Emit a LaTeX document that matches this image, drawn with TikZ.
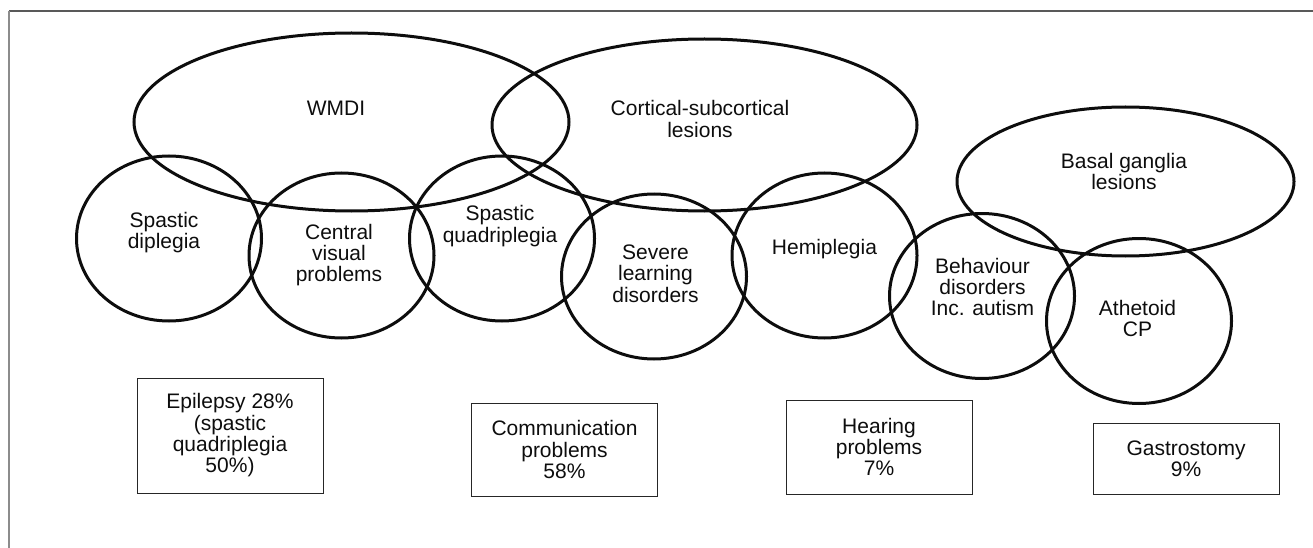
\documentclass[tikz,border=0pt]{standalone}
\usepackage{fontspec}
\setmainfont{Liberation Sans}
\usetikzlibrary{shapes.geometric}
\begin{document}
\begin{tikzpicture}[x=1pt,y=-1pt,
  lobe/.style n args={2}{draw=black!95, line width=3pt, ellipse, inner sep=0pt,
    minimum width=#1, minimum height=#2},
  lbl/.style={align=center, inner sep=0pt, text=black!95,
    font=\fontsize{21}{21.3}\selectfont},
  infobox/.style={draw=black!85, line width=1pt, inner sep=0pt, align=center,
    minimum width=186pt, text=black!95, font=\fontsize{21}{21.3}\selectfont}]
\useasboundingbox (0,0) rectangle (1313,548);
% frame
\draw[black!65, line width=1.1pt] (1313,11) -- (9,11);
\draw[black!45, line width=1.4pt] (9,11) -- (9,548);
% ellipses
\node[lobe={435pt}{178pt}] (wmdi) at (351.5,122) {};
\node[lobe={425pt}{172pt}] (cort) at (704.5,125) {};
\node[lobe={337pt}{149pt}] (basal) at (1125.5,181.5) {};
\node[lobe={185pt}{165pt}] (dipl) at (169,238.5) {};
\node[lobe={185pt}{165pt}] (cvis) at (341.5,255.5) {};
\node[lobe={185pt}{165pt}] (quad) at (502,238.5) {};
\node[lobe={185pt}{165pt}] (sev) at (654,276.5) {};
\node[lobe={185pt}{165pt}] (hemi) at (824.5,255.5) {};
\node[lobe={185pt}{165pt}] (behav) at (982,296) {};
\node[lobe={185pt}{165pt}] (athe) at (1139,321) {};
% labels
\node[lbl] (twmdi) at (336,108.5) {WMDI};
\node[lbl] (tcort) at (700,119) {Cortical-subcortical\\lesions};
\node[lbl] (tbasal) at (1124,171.5) {Basal ganglia\\lesions};
\node[lbl] (tdipl) at (164,232.5) {Spastic\\diplegia};
\node[lbl] (tcvis) at (339,255) {Central\\visual\\problems};
\node[lbl] (tquad) at (500,226) {Spastic\\quadriplegia};
\node[lbl] (tsev) at (655.5,273.5) {Severe\\learning\\disorders};
\node[lbl] (themi) at (824.5,249.5) {Hemiplegia};
\node[lbl] (tbehav) at (982.5,287) {Behaviour\\disorders\\Inc. autism};
\node[lbl] (tathe) at (1137.5,318.5) {Athetoid\\CP};
% boxes
\node[infobox, minimum height=115pt] (epi) at (230,435.5) {Epilepsy 28\%\\(spastic\\quadriplegia\\50\%)};
\node[infobox, minimum height=93pt] (comm) at (564.5,449.5) {Communication\\problems\\58\%};
\node[infobox, minimum height=94pt] (hear) at (879,447) {Hearing\\problems\\7\%};
\node[infobox, minimum height=71pt] (gast) at (1186,458.5) {Gastrostomy\\9\%};
\end{tikzpicture}
\end{document}
